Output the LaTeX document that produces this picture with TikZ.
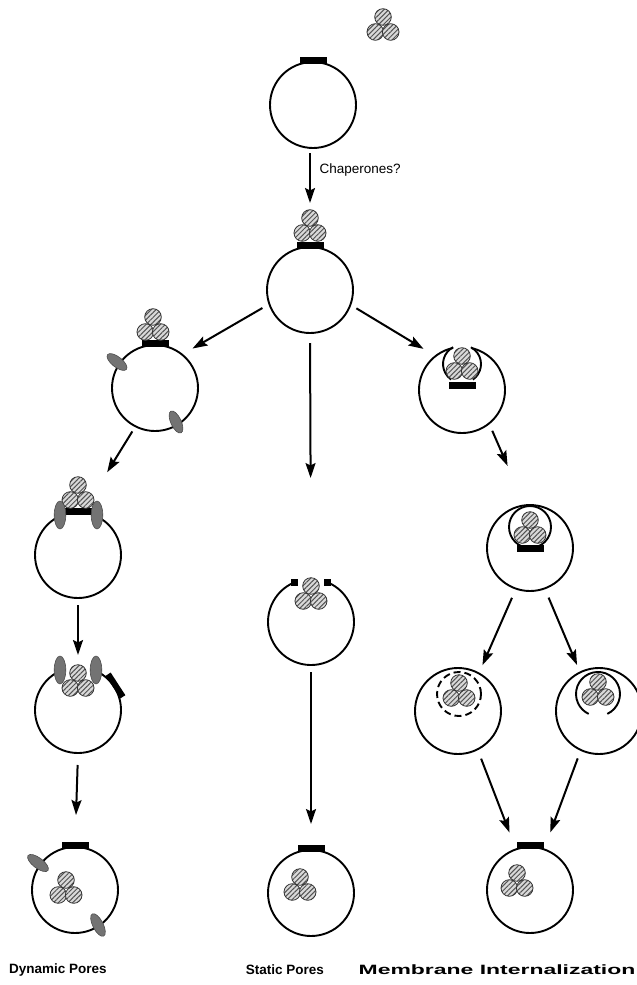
\documentclass[tikz,border=0pt]{standalone}
\usepackage{fontspec}
\setmainfont{Liberation Sans}
\usetikzlibrary{arrows.meta,patterns.meta}
\begin{document}
\begin{tikzpicture}[x=1pt,y=1pt,
  memb/.style={line width=1.9pt},
  cell/.style={circle,minimum size=86pt,inner sep=0pt,outer sep=0pt},
  ball/.style={preaction={fill=gray!30},
    pattern={Lines[angle=45,distance=3.4pt,line width=1pt]},
    pattern color=gray!65!black,draw=gray!40!black,line width=0.8pt},
  prot/.style={fill=black!55,draw=black!70,line width=0.6pt},
  arr/.style={line width=2pt,-{Stealth[length=15pt,width=10pt,inset=2.5pt]}},
  lab/.style={font=\bfseries\fontsize{13.5}{16}\selectfont},
]
\useasboundingbox (0,0) rectangle (637,-985);

\newcommand\trimer[1]{%
  \path[ball] (#1) circle[radius=8.3];
  \path[ball] (#1) ++(-7.7,-15) circle[radius=8.3];
  \path[ball] (#1) ++(7.7,-15) circle[radius=8.3];}
\newcommand\porebar[1]{\fill (#1) ++(-13.5,-1.5) rectangle ++(27,7);}

% cells
\node[cell,draw,memb] (c1) at (313,-105) {};
\node[cell,draw,memb] (c2) at (310,-290) {};
\node[cell,draw,memb] (c3) at (155,-388) {};
\node[cell] (c4) at (462,-390) {};
\node[cell,draw,memb] (c5) at (530,-548) {};
\node[cell,draw,memb] (c6) at (458,-711) {};
\node[cell,draw,memb] (c7) at (599,-711) {};
\node[cell,draw,memb] (c8) at (530,-890) {};
\node[cell] (c9) at (311,-622) {};
\node[cell,draw,memb] (c10) at (311,-893) {};
\node[cell,draw,memb] (c11) at (78,-555) {};
\node[cell] (c12) at (78,-710) {};
\node[cell,draw,memb] (c13) at (75,-890) {};

% free trimer and first cell
\trimer{383,-17}
\porebar{c1.north}

% bound at the pore
\porebar{c2.north}
\trimer{310,-218}

% dynamic pores branch
\porebar{c3.north}
\trimer{153,-317}
\path[prot,rotate around={142:(117,-362)}] (117,-362) ellipse[x radius=12,y radius=5.2];
\path[prot,rotate around={-65:(176,-422)}] (176,-422) ellipse[x radius=12,y radius=5.2];

\fill (64,-515) rectangle (93,-508);
\trimer{78,-485}
\path[prot] (60,-515) ellipse[x radius=5.8,y radius=14];
\path[prot] (97,-515) ellipse[x radius=5.8,y radius=14];

\draw[memb] (c12.114) arc[start angle=114,end angle=426,radius=43];
\fill[rotate around={-57:(115.5,-685.5)}] (102,-688.5) rectangle (129,-682.5);
\trimer{78,-673}
\path[prot] (60,-670) ellipse[x radius=5.8,y radius=14];
\path[prot] (96,-670) ellipse[x radius=5.8,y radius=14];

\porebar{c13.north}
\trimer{66,-880}
\path[prot,rotate around={143:(38,-863)}] (38,-863) ellipse[x radius=12.5,y radius=5.2];
\path[prot,rotate around={-63:(98,-925)}] (98,-925) ellipse[x radius=12.5,y radius=5.2];

% static pores branch
\draw[memb] (c9.112) arc[start angle=112,end angle=428,radius=43];
\fill (c9.112) +(-3.5,-3.5) rectangle +(3.5,3.5);
\fill (c9.68) +(-3.5,-3.5) rectangle +(3.5,3.5);
\trimer{311,-586}

\porebar{c10.north}
\trimer{300,-877}

% membrane internalization branch
\draw[memb] (c4.102) arc[start angle=102,end angle=437,radius=43];
\draw[memb] (453.1,-347.2) arc[start angle=118,end angle=235,radius=19];
\draw[memb] (472.9,-379.6) arc[start angle=-55,end angle=62,radius=19];
\fill (448.5,-388.5) rectangle (475.5,-381.5);
\trimer{462,-356}

\draw[memb] (530,-527) circle[radius=21];
\fill (516.5,-552) rectangle (543.5,-545);
\trimer{530,-520}

\draw[memb,dash pattern=on 7pt off 4pt] (459,-694) circle[radius=22];
\trimer{459,-683}

\draw[memb] (607.3,-713.9) arc[start angle=-65,end angle=245,radius=22];
\trimer{598,-682}

\porebar{c8.north}
\trimer{517,-873}

% arrows
\draw[arr,shorten <=5pt,shorten >=44pt] (c2 |- c1.south) -- (c2.north);
\node[anchor=west,font=\fontsize{13.5}{15}\selectfont] (chap) at (316,-170) {Chaperones?};
\draw[arr,shorten <=8pt,shorten >=12pt] (c2.199.5) -- (c3.51);
\draw[arr,shorten <=10pt,shorten >=101pt] (c2.south) -- (c9.north);
\draw[arr,shorten <=7pt,shorten >=14pt] (c2.340) -- (c4.128);
\draw[arr,shorten <=6pt,shorten >=47pt] (c3.243) -- (c11.84);
\draw[arr,shorten <=7pt,shorten >=12pt] (c11.south) -- (c12.north);
\draw[arr,shorten <=12pt,shorten >=32pt] (c12.south) -- (c13.north);
\draw[arr,shorten <=7pt,shorten >=26pt] (c9.south) -- (c10.north);
\draw[arr,shorten <=8pt,shorten >=43pt] (c4.309) -- (c5.97);
\draw[arr,shorten <=10pt,shorten >=9pt] (c5.251) -- (c6.61);
\draw[arr,shorten <=10pt,shorten >=8pt] (c5.290) -- (c7.116);
\draw[arr,shorten <=10pt,shorten >=18pt] (c6.297) -- (c8.109);
\draw[arr,shorten <=9pt,shorten >=18pt] (c7.245) -- (c8.71);

% labels
\node[lab] (l1) at (58,-970) {Dynamic Pores};
\node[lab] (l2) at (285,-970) {Static Pores};
\node[lab] (l3) at (497,-970) {\scalebox{1.7}[1]{Membrane Internalization}};
\end{tikzpicture}
\end{document}
